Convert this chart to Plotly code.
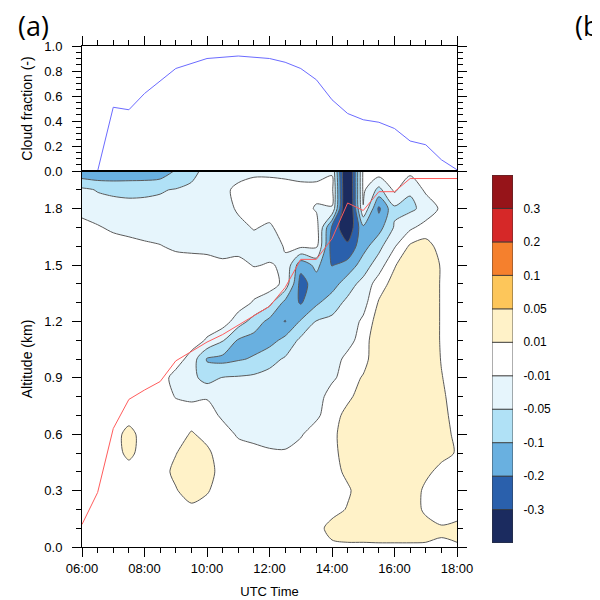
import numpy as np
import plotly.graph_objects as go

day = "2000-01-01 "

# half-hourly output times and model altitudes (km)
times = ["06:00", "06:30", "07:00", "07:30", "08:00", "08:30", "09:00", "09:30",
         "10:00", "10:30", "11:00", "11:30", "12:00", "12:30", "13:00", "13:30",
         "14:00", "14:30", "15:00", "15:30", "16:00", "16:30", "17:00", "17:30", "18:00"]
alt_km = [0.0, 0.1, 0.2, 0.3, 0.4, 0.5, 0.6, 0.7, 0.8, 0.9, 1.0,
          1.1, 1.2, 1.3, 1.4, 1.5, 1.6, 1.7, 1.8, 1.9, 2.0]

# contoured field, one row per altitude (bottom -> top), one column per time
field = [
    [0, 0, 0, 0, 0, 0, 0, 0, 0, 0, 0, 0, 0, 0, 0, 0, 0.004, 0.006, 0.006, 0.006, 0.006, 0.006, 0.006, 0.008, 0.008],
    [0, 0, 0, 0, 0, 0, 0, 0, 0, 0, 0, 0, 0, 0, 0, 0, 0.03, 0.034, 0.034, 0.038, 0.038, 0.038, 0.034, 0.014, 0.022],
    [0, 0, 0, 0, 0, 0, 0, 0.004, 0.002, 0, 0, 0, 0, 0, 0, 0, 0, 0.014, 0.038, 0.042, 0.042, 0.042, 0.004, 0, 0],
    [0, 0, 0, 0, 0, 0, 0.008, 0.034, 0.014, 0, 0, 0, 0, 0, 0, 0, 0, 0.006, 0.038, 0.042, 0.042, 0.042, 0.004, -0.004, 0],
    [0, 0, 0, 0, 0, 0, 0.022, 0.042, 0.03, 0, 0, 0, 0, 0, 0, 0, 0, 0.022, 0.038, 0.042, 0.042, 0.042, 0.022, 0.002, 0],
    [0, 0, 0, 0.022, 0, 0, 0.009, 0.034, 0.018, 0, 0, -0.004, -0.008, -0.008, -0.002, 0, 0.002, 0.034, 0.038, 0.042, 0.042, 0.042, 0.042, 0.026, 0.008],
    [0, 0, 0, 0.026, 0, 0, 0, 0.014, 0.004, 0, -0.016, -0.022, -0.022, -0.026, -0.014, 0, 0.004, 0.034, 0.038, 0.042, 0.042, 0.042, 0.042, 0.03, 0.004],
    [0, 0, 0, 0, 0, 0, 0, 0, 0, -0.018, -0.022, -0.026, -0.026, -0.03, -0.026, -0.018, 0.002, 0.022, 0.034, 0.042, 0.042, 0.042, 0.042, 0.026, 0],
    [0, 0, 0, 0, 0, 0, -0.012, -0.018, -0.014, -0.034, -0.03, -0.03, -0.03, -0.03, -0.03, -0.03, 0, 0.006, 0.026, 0.042, 0.042, 0.042, 0.042, 0.018, 0],
    [0, 0, 0, 0, 0, 0, -0.026, -0.038, -0.07, -0.048, -0.046, -0.042, -0.038, -0.034, -0.034, -0.034, -0.018, 0, 0.014, 0.042, 0.042, 0.042, 0.042, 0.012, 0],
    [0, 0, 0, 0, 0, 0, 0, -0.026, -0.11, -0.13, -0.11, -0.095, -0.065, -0.046, -0.038, -0.034, -0.03, -0.004, 0.002, 0.042, 0.042, 0.042, 0.042, 0.009, 0],
    [0, 0, 0, 0, 0, 0, 0, 0, -0.014, -0.046, -0.11, -0.14, -0.14, -0.085, -0.042, -0.038, -0.034, -0.026, 0, 0.042, 0.042, 0.042, 0.042, 0.008, 0],
    [0, 0, 0, 0, 0, 0, 0, 0, 0, 0, -0.03, -0.07, -0.13, -0.205, -0.095, -0.048, -0.042, -0.034, -0.006, 0.03, 0.042, 0.042, 0.042, 0.008, 0],
    [0, 0, 0, 0, 0, 0, 0, 0, 0, 0, 0, -0.014, -0.038, -0.13, -0.21, -0.12, -0.07, -0.042, -0.026, 0.014, 0.042, 0.042, 0.042, 0.008, 0],
    [0, 0, 0, 0, 0, 0, 0, 0, 0, 0, 0, 0, 0, -0.022, -0.24, -0.15, -0.15, -0.07, -0.038, 0, 0.026, 0.042, 0.042, 0.008, 0],
    [0, 0, 0, 0, 0, 0, 0, 0, 0, -0.006, -0.005, -0.012, -0.009, -0.014, -0.167, -0.085, -0.205, -0.17, -0.075, -0.03, 0.008, 0.042, 0.042, 0.008, 0],
    [0, 0, 0, -0.002, -0.006, -0.009, -0.018, -0.022, -0.026, -0.026, -0.022, -0.022, -0.022, -0.009, -0.006, -0.006, -0.25, -0.27, -0.14, -0.065, -0.014, 0.016, 0.026, 0.002, 0],
    [0, -0.008, -0.018, -0.026, -0.03, -0.03, -0.032, -0.03, -0.03, -0.026, -0.018, -0.009, -0.014, -0.004, -0.002, -0.002, -0.22, -0.4, -0.12, -0.14, -0.046, -0.018, -0.002, 0, 0],
    [-0.03, -0.034, -0.038, -0.042, -0.044, -0.042, -0.038, -0.034, -0.03, -0.022, -0.008, -0.002, -0.004, -0.002, -0.002, -0.014, -0.012, -0.5, -0.012, -0.22, -0.06, -0.06, -0.038, -0.006, 0],
    [-0.042, -0.053, -0.058, -0.058, -0.055, -0.053, -0.048, -0.042, -0.034, -0.022, -0.004, -0.002, -0.002, -0.002, -0.004, -0.004, -0.004, -0.5, -0.006, -0.065, -0.006, -0.046, -0.006, 0, 0],
    [-0.18, -0.195, -0.195, -0.19, -0.19, -0.17, -0.095, -0.065, -0.038, -0.026, -0.03, -0.018, -0.018, -0.022, -0.026, -0.026, -0.014, -0.5, -0.006, 0.002, 0, -0.004, 0, 0, 0],
]

# red line in the lower panel (km)
base_alt = [0.12, 0.29, 0.63, 0.785, 0.835, 0.88, 0.99, 1.04, 1.09, 1.13, 1.18, 1.23, 1.28,
            1.38, 1.53, 1.53, 1.64, 1.83, 1.79, 1.89, 1.89, 1.96, 1.96, 1.96, 1.96]

# cloud fraction, upper panel
cf_times = ["06:30", "07:00", "07:30", "08:00", "09:00", "10:00", "11:00", "12:00", "12:30", "13:00",
            "13:30", "14:00", "14:30", "15:00", "15:30", "16:00", "16:30", "17:00", "17:30", "18:00"]
cloud_frac = [0.0, 0.51, 0.49, 0.62, 0.82, 0.90, 0.92, 0.90, 0.87, 0.82,
              0.73, 0.57, 0.46, 0.41, 0.39, 0.34, 0.24, 0.21, 0.09, 0.01]

levels = [-0.3, -0.2, -0.1, -0.05, -0.01, 0.01, 0.05, 0.1, 0.2, 0.3]
level_labels = ["-0.3", "-0.2", "-0.1", "-0.05", "-0.01", "0.01", "0.05", "0.1", "0.2", "0.3"]
fill_colors = ["#1b2b5f", "#2a60ac", "#69b0e0", "#b0e1f6", "#e6f5fc", "#ffffff",
               "#fff2c8", "#fdc65a", "#f5802d", "#d62828", "#961419"]

x_t = [day + t for t in times]
x_cf = [day + t for t in cf_times]

# levels are not evenly spaced -> contour in "level index" space
z = np.array(field, dtype=float)
z_idx = np.interp(z, levels, np.arange(len(levels)))
z_idx = np.where(z < levels[0], (z - levels[0]) / 0.1, z_idx)
z_idx = np.where(z > levels[-1], 9 + (z - levels[-1]) / 0.1, z_idx)

font = "Liberation Sans, Arial, sans-serif"
# page has an 8px body margin, so the figure is 592 and every pixel is shifted by 8
W = 592.0
xdom = [74 / W, 449 / W]
ydom_low = [1 - 539 / W, 1 - 163 / W]
ydom_top = [1 - 163 / W, 1 - 38 / W]

fig = go.Figure()

fig.add_trace(go.Contour(
    x=x_t, y=alt_km, z=z_idx,
    contours=dict(start=0, end=9, size=1, coloring="fill", showlines=True),
    colorscale=[[k / 10, c] for k, c in enumerate(fill_colors)],
    line=dict(color="#5a5a5a", width=1, smoothing=0.8),
    showscale=False, hoverinfo="skip", xaxis="x", yaxis="y"))

fig.add_trace(go.Scatter(x=x_t, y=base_alt, mode="lines",
                         line=dict(color="#ff5c5c", width=1), xaxis="x", yaxis="y"))

fig.add_trace(go.Scatter(x=x_cf, y=cloud_frac, mode="lines",
                         line=dict(color="#6b6bff", width=1), xaxis="x2", yaxis="y2"))

# label bar
fig.add_trace(go.Bar(x=[0] * len(fill_colors), y=[1] * len(fill_colors),
                     base=list(range(len(fill_colors))), width=1,
                     marker=dict(color=fill_colors, line=dict(color="#333333", width=0.8)),
                     hoverinfo="skip", xaxis="x3", yaxis="y3"))

tick_font = dict(family=font, size=13, color="black")
xrange = [day + "06:00", day + "18:00"]
common_x = dict(range=xrange, type="date", tickformat="%H:%M", tick0=day + "06:00",
                dtick=2 * 3600 * 1000, ticks="outside", ticklen=9, tickwidth=1,
                tickcolor="black", showline=True, linecolor="black", linewidth=1,
                showgrid=False, zeroline=False, tickfont=tick_font, automargin=False,
                minor=dict(dtick=1800 * 1000, ticks="outside", ticklen=5,
                           tickwidth=1, tickcolor="black", showgrid=False))

fig.update_layout(
    width=592, height=592, margin=dict(l=0, r=0, t=0, b=0),
    paper_bgcolor="white", plot_bgcolor="white", showlegend=False,
    font=dict(family=font, size=13, color="black"),
    xaxis=dict(domain=xdom, anchor="y", mirror=True,
               title=dict(text="UTC Time", font=dict(family=font, size=13), standoff=12),
               **common_x),
    yaxis=dict(domain=ydom_low, anchor="x", range=[0, 2.0], tick0=0, dtick=0.3,
               tickformat=".1f", ticks="outside", ticklen=9, tickwidth=1, tickcolor="black",
               showline=True, linecolor="black", linewidth=1, mirror="ticks",
               ticklabelstandoff=7,
               showgrid=False, zeroline=False, tickfont=tick_font, automargin=False,
               title=dict(text="Altitude (km)", font=dict(family=font, size=14), standoff=8),
               minor=dict(dtick=0.1, ticks="outside", ticklen=5, tickwidth=1,
                          tickcolor="black", showgrid=False)),
    xaxis2=dict(domain=xdom, anchor="y2", side="top", mirror=True,
                showticklabels=False, **common_x),
    yaxis2=dict(domain=ydom_top, anchor="x2", range=[0, 1.0], tick0=0, dtick=0.2,
                tickformat=".1f", ticks="outside", ticklen=9, tickwidth=1, tickcolor="black",
                showline=True, linecolor="black", linewidth=1, mirror="ticks",
                ticklabelstandoff=7,
                showgrid=False, zeroline=False, tickfont=tick_font, automargin=False,
                title=dict(text="Cloud fraction (-)", font=dict(family=font, size=14), standoff=8),
                minor=dict(dtick=0.05, ticks="outside", ticklen=5, tickwidth=1,
                           tickcolor="black", showgrid=False)),
    xaxis3=dict(domain=[484 / W, 505 / W], anchor="y3", range=[-0.5, 0.5],
                visible=False, automargin=False),
    yaxis3=dict(domain=[1 - 535 / W, 1 - 167 / W], anchor="x3", side="right",
                range=[0, len(fill_colors)], tickvals=list(range(1, len(fill_colors))),
                ticktext=level_labels, ticks="outside", ticklen=7, automargin=False,
                tickcolor="rgba(0,0,0,0)", showline=False, showgrid=False, zeroline=False,
                tickfont=dict(family=font, size=12, color="black")),
    shapes=[dict(type="line", xref="x domain", yref="y domain", x0=0, x1=1, y0=1, y1=1,
                 line=dict(color="black", width=2))],
    annotations=[
        dict(text="(a)", xref="paper", yref="paper", x=8 / W, y=1 - 18 / W,
             xanchor="left", yanchor="middle", showarrow=False,
             font=dict(family="Open Sans, DejaVu Sans", size=27, color="black")),
        dict(text="(b)", xref="paper", yref="paper", x=565 / W, y=1 - 18 / W,
             xanchor="left", yanchor="middle", showarrow=False,
             font=dict(family="Open Sans, DejaVu Sans", size=27, color="black")),
    ],
)

fig.write_html("out.html")
